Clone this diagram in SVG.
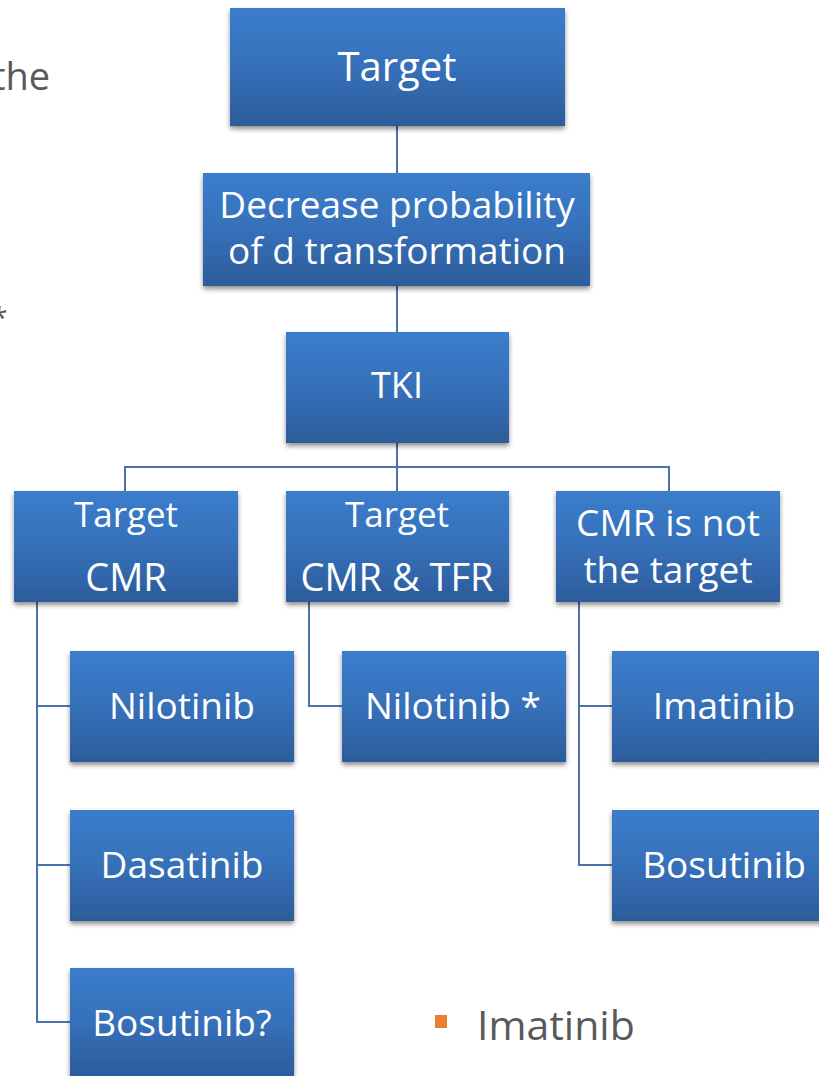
<svg xmlns="http://www.w3.org/2000/svg" width="819" height="1076" viewBox="0 0 819 1076">
  <defs>
    <linearGradient id="boxFill" x1="0" y1="0" x2="0" y2="1">
      <stop offset="0" stop-color="#3b7dcc"/>
      <stop offset="0.5" stop-color="#3670ba"/>
      <stop offset="1" stop-color="#2c5c9a"/>
    </linearGradient>
    <filter id="shadow" x="-10%" y="-10%" width="120%" height="130%">
      <feGaussianBlur in="SourceAlpha" stdDeviation="2.5"/>
      <feOffset dx="0" dy="3" result="b"/>
      <feComponentTransfer><feFuncA type="linear" slope="0.45"/></feComponentTransfer>
      <feMerge><feMergeNode/><feMergeNode in="SourceGraphic"/></feMerge>
    </filter>
  </defs>
  <style>
    .box { fill: url(#boxFill); filter: url(#shadow); }
    .lbl { font-family: "Open Sans", "Noto Sans", sans-serif; fill: #ffffff; text-anchor: middle; font-size: 37px; }
    .conn { fill: none; stroke: #4a73a9; stroke-width: 2; }
    .body { font-family: "Open Sans", "Noto Sans", sans-serif; fill: #595959; }
  </style>

  <rect width="819" height="1076" fill="#ffffff"/>

  <!-- slide body text partly behind the chart -->
  <text class="body" x="-8" y="90" font-size="38">the</text>
  <text class="body" x="-9" y="328" font-size="30">*</text>
  <rect x="435" y="1015" width="12" height="13" fill="#ed7d31"/>
  <text class="body" x="477" y="1040" font-size="41">Imatinib</text>

  <!-- connectors -->
  <g id="connectors">
    <path class="conn" d="M397 126 V173 M397 286 V332 M397 443 V491 M125 491 V467 H669 V491"/>
    <path class="conn" d="M37 602 V1022 H70 M37 706 H70 M37 865 H70"/>
    <path class="conn" d="M309 602 V706 H342"/>
    <path class="conn" d="M579 602 V865 H612 M579 706 H612"/>
  </g>

  <g id="target">
    <rect class="box" x="230" y="8" width="335" height="118"/>
    <text class="lbl" x="397" y="81" font-size="40" style="font-size:40px">Target</text>
  </g>

  <g id="decrease">
    <rect class="box" x="203" y="173" width="387" height="113"/>
    <text class="lbl" x="397" y="218">Decrease probability</text>
    <text class="lbl" x="397" y="264">of d transformation</text>
  </g>

  <g id="tki">
    <rect class="box" x="286" y="332" width="223" height="111"/>
    <text class="lbl" x="397" y="398" style="font-size:36px">TKI</text>
  </g>

  <g id="target-cmr">
    <rect class="box" x="14" y="491" width="224" height="111"/>
    <text class="lbl" x="126" y="527" style="font-size:35px">Target</text>
    <text class="lbl" x="126" y="591" style="font-size:38px">CMR</text>
  </g>

  <g id="target-cmr-tfr">
    <rect class="box" x="286" y="491" width="223" height="111"/>
    <text class="lbl" x="397" y="527" style="font-size:35px">Target</text>
    <text class="lbl" x="397" y="591" style="font-size:38px">CMR &amp; TFR</text>
  </g>

  <g id="cmr-not-target">
    <rect class="box" x="556" y="491" width="224" height="111"/>
    <text class="lbl" x="668" y="536">CMR is not</text>
    <text class="lbl" x="668" y="583">the target</text>
  </g>

  <g id="nilotinib-1">
    <rect class="box" x="70" y="651" width="224" height="111"/>
    <text class="lbl" x="182" y="719">Nilotinib</text>
  </g>

  <g id="dasatinib">
    <rect class="box" x="70" y="810" width="224" height="111"/>
    <text class="lbl" x="182" y="878">Dasatinib</text>
  </g>

  <g id="bosutinib-q">
    <rect class="box" x="70" y="968" width="224" height="108"/>
    <text class="lbl" x="182" y="1036">Bosutinib?</text>
  </g>

  <g id="nilotinib-2">
    <rect class="box" x="342" y="651" width="224" height="111"/>
    <text class="lbl" x="453" y="719">Nilotinib *</text>
  </g>

  <g id="imatinib">
    <rect class="box" x="612" y="651" width="224" height="111"/>
    <text class="lbl" x="724" y="719">Imatinib</text>
  </g>

  <g id="bosutinib">
    <rect class="box" x="612" y="810" width="224" height="111"/>
    <text class="lbl" x="724" y="878">Bosutinib</text>
  </g>
</svg>
